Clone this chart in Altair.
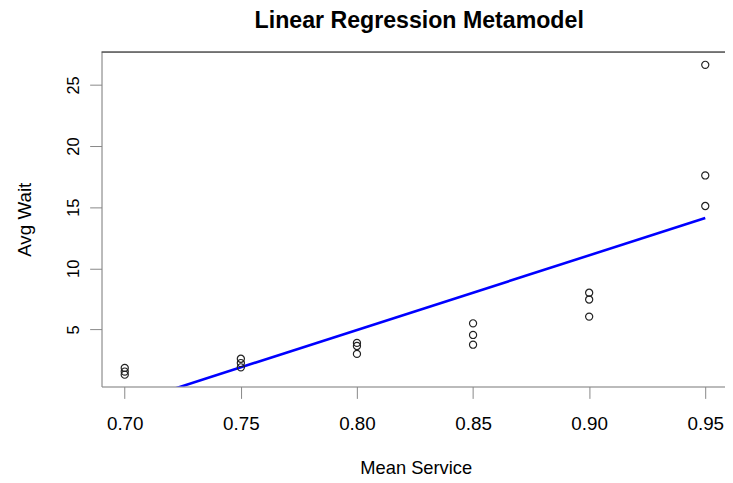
import altair as alt
import pandas as pd

# Data
mean_service = [0.70, 0.70, 0.70,
                0.75, 0.75, 0.75,
                0.80, 0.80, 0.80,
                0.85, 0.85, 0.85,
                0.90, 0.90, 0.90,
                0.95, 0.95, 0.95]
avg_wait = [1.85, 1.55, 1.30,
            2.60, 2.25, 1.90,
            3.90, 3.65, 3.00,
            5.50, 4.55, 3.75,
            8.00, 7.45, 6.05,
            26.65, 17.60, 15.10]
x_ticks = [0.70, 0.75, 0.80, 0.85, 0.90, 0.95]
y_ticks = [5, 10, 15, 20, 25]

df = pd.DataFrame({"x": mean_service, "y": avg_wait})

FONT = "Liberation Sans"
W, H = 630, 338

xscale = alt.Scale(domain=[0.69, 0.9585], nice=False, zero=False)
yscale = alt.Scale(domain=[0.33, 27.70], nice=False, zero=False)

xaxis = alt.Axis(
    values=x_ticks, format=".2f", grid=False,
    title="Mean Service", titleFontSize=18.5, titleFontWeight="normal",
    titleX=317.5, titleY=88.3, titleBaseline="alphabetic", titleAlign="center",
    labelFontSize=19, labelBaseline="alphabetic", labelPadding=31.3,
    tickSize=12, labelFlush=False, labelOverlap=False,
)
yaxis = alt.Axis(
    values=y_ticks, grid=False,
    title="Avg Wait", titleFontSize=19, titleFontWeight="normal",
    titleAngle=270, titleX=-78, titleY=169, titleBaseline="middle", titleAlign="center",
    labelFontSize=16.5, labelAngle=270, labelAlign="center", labelBaseline="alphabetic",
    labelPadding=11.4, tickSize=12, labelFlush=False, labelOverlap=False,
)

points = alt.Chart(df).mark_point(
    shape="circle", filled=False, color="#222222", size=52, strokeWidth=1.2, opacity=1
).encode(
    x=alt.X("x:Q", scale=xscale, axis=xaxis),
    y=alt.Y("y:Q", scale=yscale, axis=yaxis),
)

fit = alt.Chart(df).transform_regression(
    "x", "y", extent=[0.70, 0.95]
).mark_line(color="#0000FF", strokeWidth=2.6, clip=True).encode(
    x=alt.X("x:Q", scale=xscale),
    y=alt.Y("y:Q", scale=yscale),
)

top_border = alt.Chart(pd.DataFrame({"a": [0]})).mark_rule(
    color="black", strokeWidth=1
).encode(x=alt.value(0), x2=alt.value(W), y=alt.value(0))

chart = alt.layer(top_border, fit, points).properties(
    width=W, height=H,
    title=alt.TitleParams(
        "Linear Regression Metamodel", font=FONT, fontSize=23.4, fontWeight="bold",
        anchor="middle", frame="group", baseline="alphabetic", offset=21.7, dx=6,
        dy=21.5, color="black",
    ),
    autosize=alt.AutoSizeParams(type="none"),
    padding={"left": 94.5, "top": 42, "right": 0, "bottom": 92},
).configure_view(stroke=None).configure_axis(
    labelFont=FONT, titleFont=FONT, labelColor="black", titleColor="black",
    domainColor="black", tickColor="black", domainWidth=1, tickWidth=1,
).configure(background="white")

chart.save("out.html", embed_options={"renderer": "svg", "actions": False})
